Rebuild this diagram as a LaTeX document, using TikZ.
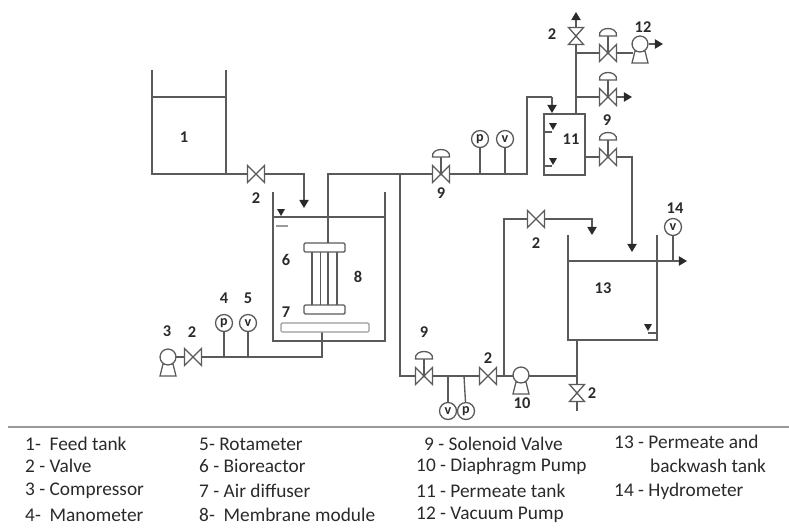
\documentclass[tikz,border=0pt]{standalone}
\usepackage{fontspec}
\setmainfont{Carlito}
\usepackage{xcolor}
\usetikzlibrary{arrows.meta,positioning,calc}
\definecolor{pipe}{HTML}{5A5A5A}
\definecolor{soft}{HTML}{9A9A9A}
\definecolor{inkc}{HTML}{2A2A2A}
\tikzset{
  line/.style={draw=pipe,line width=1.15pt},
  flow/.style={line,-{Triangle[width=8pt,length=7pt,color=inkc]}},
  symb/.style={draw=pipe,line width=1.1pt,fill=white},
  gauge/.style={circle,draw=pipe,line width=1.1pt,fill=white,inner sep=0pt,minimum size=14.5pt,text=inkc,font=\bfseries\fontsize{12}{12}\selectfont},
  tag/.style={text=inkc,inner sep=0pt,font=\bfseries\fontsize{14}{14}\selectfont},
  leg/.style={text=inkc,anchor=west,inner sep=0pt,font=\fontsize{16.5}{17}\selectfont}
}
\begin{document}
\begin{tikzpicture}[x=0.03cm,y=-0.03cm]
  \useasboundingbox (0,0) rectangle (789,529);
  % junctions and pipe ends
  \foreach \nm/\px/\py in {
      fdTL/152/70,fdTR/226/70,fdBL/152/174,fdBR/226/174,fdLL/152/97,fdLR/226/97,
      feedBend/304/174,feedEnd/304/208,
      brTL/273/192,brTR/385/192,brBL/273/341,brBR/385/341,brLL/273/217,brLR/385/217,
      modIn/328/243,mainBend/328/174,mainSplit/400/174,airUp/322/332,airBend/322/357,
      permUp/527/174,permTop/527/97,permTurn/552/97,permEnd/552/113,
      ptTL/544/114,ptBR/585/175,ptOut/576/114,ptBr1/576/53,ptBr2/576/97,ptTopEnd/576/12,
      vacIn/633/53,vacOut/663/44,ventEnd/632/97,
      ptDrain/585/157,dropTop/632/157,dropEnd/632/252,
      backBend/400/376,pumpJoin/504/376,upTop/504/219,upBend/592/219,upEnd/592/235,
      tkTL/568/235,tkBL/568/340,tkTR/657/235,tkBR/657/340,tkLL/568/261,tkLR/657/261,
      tkOutEnd/687/261,tkOutJ/673/261,tkFoot/577/340,tkLine/577/376,tkEnd/577/411,
      ruleL/8/427,ruleR/789/427} {
    \coordinate (\nm) at (\px,\py);
  }
  \foreach \nm/\px/\py in {
      vFeed/256/174,vAir/193/357,vBack/488/376,vRecycle/536/219,
      sPerm/441/174,sVac/608/53,sVent/608/97,sDrain/608/157,sBack/424/376} {
    \coordinate (\nm) at (\px,\py);
  }
  \coordinate (vTop) at (576,36);
  \coordinate (vFoot) at (577,393);
  % pipes
  \draw[line] (fdTL) -- (fdBL) -- (fdBR) -- (fdTR);
  \draw[line] (fdLL) -- (fdLR);
  \draw[flow] (fdBR) -- (feedBend) -- (feedEnd);
  \draw[line] (brTL) -- (brBL) -- (brBR) -- (brTR);
  \draw[line] (brLL) -- (brLR);
  \draw[line] (modIn) -- (mainBend) -- (permUp) -- (permTop) -- (permTurn);
  \draw[flow] (permTurn) -- (permEnd);
  \draw[line] (ptOut) -- (vTop);
  \draw[flow] (vTop) -- (ptTopEnd);
  \draw[line] (ptBr1) -- (vacIn);
  \draw[flow] (ptBr2) -- (ventEnd);
  \draw[flow] (ptDrain) -- (dropTop) -- (dropEnd);
  \draw[line] (mainSplit) -- (backBend) -- (tkLine);
  \draw[flow] (pumpJoin) -- (upTop) -- (upBend) -- (upEnd);
  \draw[line] (tkTL) -- (tkBL) -- (tkBR) -- (tkTR);
  \draw[line] (tkLL) -- (tkLR);
  \draw[flow] (tkLR) -- (tkOutEnd);
  \draw[line] (tkFoot) -- (tkEnd);
  \draw[line] (airUp) -- (airBend) -- (vAir) -- (176,357);
  \draw[line] (ptTL) rectangle (ptBR);
  \draw[draw=soft,line width=1.5pt] (ruleL) -- (ruleR);
  % membrane module and diffuser
  \foreach \tx in {312,320.5,328,337} {
    \draw[line] (\tx,252) -- (\tx,305);
  }
  \draw[symb,rounded corners=1pt] (304,243) rectangle (345,252);
  \draw[symb,rounded corners=1pt] (304,305) rectangle (345,314);
  \draw[draw=soft,line width=1pt,fill=white,rounded corners=1pt] (281,323) rectangle (369,332);
  % level marks
  \foreach \lx/\ly in {281/216,553/130,553/165,648/331} {
    \fill[inkc] (\lx,\ly) -- ++(-4,-7) -- ++(8,0) -- cycle;
  }
  \draw[line] (544,132) -- (552,132);
  \draw[line] (544,166) -- (552,166);
  \draw[line] (657,333) -- (648,333);
  \draw[draw=soft,line width=1pt] (276,226) -- (288,226);
  % hand valves
  \foreach \vv in {vFeed,vAir,vBack,vRecycle} {
    \draw[symb] ($(\vv)+(-8.5,-8.5)$) -- ($(\vv)+(8.5,8.5)$) -- ($(\vv)+(8.5,-8.5)$) -- ($(\vv)+(-8.5,8.5)$) -- cycle;
  }
  \foreach \vv in {vTop,vFoot} {
    \draw[symb] ($(\vv)+(-7.5,-8.5)$) -- ($(\vv)+(7.5,8.5)$) -- ($(\vv)+(-7.5,8.5)$) -- ($(\vv)+(7.5,-8.5)$) -- cycle;
  }
  % solenoid valves
  \foreach \vv in {sPerm,sVac,sVent,sDrain,sBack} {
    \draw[line] (\vv) -- ++(0,-20);
    \draw[symb] ($(\vv)+(-8.5,-8.5)$) -- ($(\vv)+(8.5,8.5)$) -- ($(\vv)+(8.5,-8.5)$) -- ($(\vv)+(-8.5,8.5)$) -- cycle;
    \fill[pipe] (\vv) circle (1.7);
    \draw[symb] ($(\vv)+(-8.5,-17)$) .. controls ($(\vv)+(-10,-27)$) and ($(\vv)+(10,-27)$) .. ($(\vv)+(8.5,-17)$) -- cycle;
  }
  % pumps
  \foreach \pp/\px/\py in {cmp/168/357,dia/521/375,vac/640/44} {
    \draw[symb] ($(\px,\py)+(-5,7)$) -- ($(\px,\py)+(5,7)$) -- ($(\px,\py)+(8,19)$) -- ($(\px,\py)+(-8,19)$) -- cycle;
    \node[circle,draw=pipe,line width=1.1pt,fill=white,minimum size=13.6pt,inner sep=0pt] (\pp) at (\px,\py) {};
  }
  \draw[flow] (vac.east) -- (vacOut);
  % gauges
  \foreach \gg/\px/\py/\tx in {gP1/224/323/p,gV1/248/323/v,gP2/480/139/p,gV2/505/139/v,gV3/448/411/v,gP3/466/411/p,gV4/673/227/v} {
    \node[gauge] (\gg) at (\px,\py) {\tx};
  }
  \draw[line] (gP1) -- (224,357);
  \draw[line] (gV1) -- (248,357);
  \draw[line] (gP2) -- (480,174);
  \draw[line] (gV2) -- (505,174);
  \draw[line] (gV3) -- (448,376);
  \draw[line] (gP3) -- (464,376);
  \draw[line] (gV4) -- (tkOutJ);
  % numbers on the drawing
  \foreach \lab/\px/\py [count=\i] in {
      1/184/137,2/256/198,3/167/331,2/192/332,4/224/298,5/248/298,6/286/260,7/286/312,8/358/277,
      9/441/193,2/552/34,12/643/27,9/607/120,11/571/139,2/536/243,14/675/208,13/603/288,
      9/424/332,2/488/358,10/522/403,2/592/393} {
    \node[tag] (num\i) at (\px,\py) {\lab};
  }
  % legend
  \foreach \lab/\px/\py [count=\i] in {
      {1-\ \ Feed tank}/25/444,{2 - Valve}/25/466,{3 - Compressor}/25/491,{4-\ \ Manometer}/25/515,
      {5- Rotameter}/199/444,{6 - Bioreactor}/199/466,{7 - Air diffuser}/199/491,{8-\ \ Membrane module}/199/515,
      {9 - Solenoid Valve}/424/444,{10 - Diaphragm Pump}/416/466,{11 - Permeate tank}/416/491,{12 - Vacuum Pump}/416/515,
      {13 - Permeate and}/614/442,{backwash tank}/650/466,{14 - Hydrometer}/614/491} {
    \node[leg] (leg\i) at (\px,\py) {\lab};
  }
\end{tikzpicture}
\end{document}
